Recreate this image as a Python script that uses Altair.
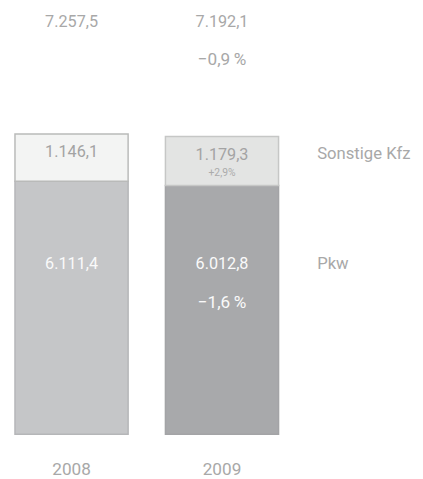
import altair as alt
import pandas as pd

# ---- data ----
years = ["2008", "2009"]
pkw = [6111.4, 6012.8]
sonstige = [1146.1, 1179.3]
totals = [7257.5, 7192.1]
change_total_2009 = "\u22120,9\u2009%"
change_pkw_2009 = "\u22121,6\u2009%"
change_sonst_2009 = "+2,9%"
legend_labels = ["Sonstige Kfz", "Pkw"]

Y_MAX = 10190
FONT = "Roboto"
W = 400


def de(v):
    s = f"{v:,.1f}"
    return s.replace(",", "X").replace(".", ",").replace("X", ".")


keys = ["2008-Pkw", "2008-Sonstige", "2009-Pkw", "2009-Sonstige"]
fills = ["#c5c6c8", "#f3f4f3", "#a8a9ab", "#e3e4e3"]
strokes = ["#b5b6b8", "#b9bab9", "#a3a4a6", "#c6c7c6"]

rows = []
for i, yr in enumerate(years):
    rows.append({"year": yr, "key": f"{yr}-Pkw", "y0": 0, "y1": pkw[i]})
    rows.append({"year": yr, "key": f"{yr}-Sonstige", "y0": pkw[i], "y1": pkw[i] + sonstige[i]})
bars_df = pd.DataFrame(rows)

tot_df = pd.DataFrame({"year": years, "label": [de(v) for v in totals]})
sonst_df = pd.DataFrame({"year": years, "label": [de(v) for v in sonstige],
                         "top": [p + s for p, s in zip(pkw, sonstige)]})
pkw_df = pd.DataFrame({"year": years, "label": [de(v) for v in pkw]})
chg_tot_df = pd.DataFrame({"year": ["2009"], "label": [change_total_2009]})
chg_pkw_df = pd.DataFrame({"year": ["2009"], "label": [change_pkw_2009]})
chg_son_df = pd.DataFrame({"year": ["2009"], "label": [change_sonst_2009],
                           "top": [pkw[1] + sonstige[1]]})
leg_s_df = pd.DataFrame({"year": ["2009"], "label": [legend_labels[0]], "top": [totals[0]]})
leg_p_df = pd.DataFrame({"year": ["2009"], "label": [legend_labels[1]]})

xscale = alt.Scale(domain=years, paddingInner=0.248, paddingOuter=0.0464)
yscale = alt.Scale(domain=[0, Y_MAX], nice=False, zero=True)
xaxis = alt.Axis(domain=False, ticks=False, grid=False,
                 labelPadding=27, labelFontSize=17.5, labelColor="#a8a8a8",
                 labelFont=FONT, labelFontWeight=W, labelAngle=0, title=None)


def X():
    return alt.X("year:N", scale=xscale, axis=xaxis, title=None)


def YD(v):
    return alt.YDatum(v, type="quantitative", scale=yscale, axis=None)


def YF(f):
    return alt.Y(f, type="quantitative", scale=yscale, axis=None)


bars = alt.Chart(bars_df).mark_bar(strokeWidth=1.5).encode(
    x=X(),
    y=YF("y0"),
    y2="y1:Q",
    color=alt.Color("key:N", scale=alt.Scale(domain=keys, range=fills), legend=None),
    stroke=alt.Stroke("key:N", scale=alt.Scale(domain=keys, range=strokes), legend=None),
)


def txt(df, y, dy, color, size=16.5, align="center", dx=0):
    return alt.Chart(df).mark_text(
        dy=dy, dx=dx, color=color, fontSize=size, font=FONT, fontWeight=W,
        baseline="middle", align=align
    ).encode(x=X(), y=y, text="label:N")


layers = [
    bars,
    txt(tot_df, YD(Y_MAX), 10, "#a8a8a8"),
    txt(chg_tot_df, YD(Y_MAX), 49, "#a8a8a8", size=17.5),
    txt(sonst_df, YF("top"), 19, "#a3a3a3"),
    txt(chg_son_df, YF("top"), 37.5, "#ababab", size=10.5),
    txt(pkw_df, YD(0), -173, "#fafafa"),
    txt(chg_pkw_df, YD(0), -134, "#fafafa", size=17.5),
    txt(leg_s_df, YF("top"), 21, "#a8a8a8", size=17, align="left", dx=97),
    txt(leg_p_df, YD(0), -173, "#a8a8a8", size=17, align="left", dx=97),
]

chart = alt.layer(*layers).properties(
    width=283, height=430,
    autosize=alt.AutoSizeParams(type="none"),
    padding={"left": 0, "top": 0, "right": 132, "bottom": 41},
).configure_view(stroke=None)

chart.save("out.html", embed_options={"renderer": "svg", "actions": False})
